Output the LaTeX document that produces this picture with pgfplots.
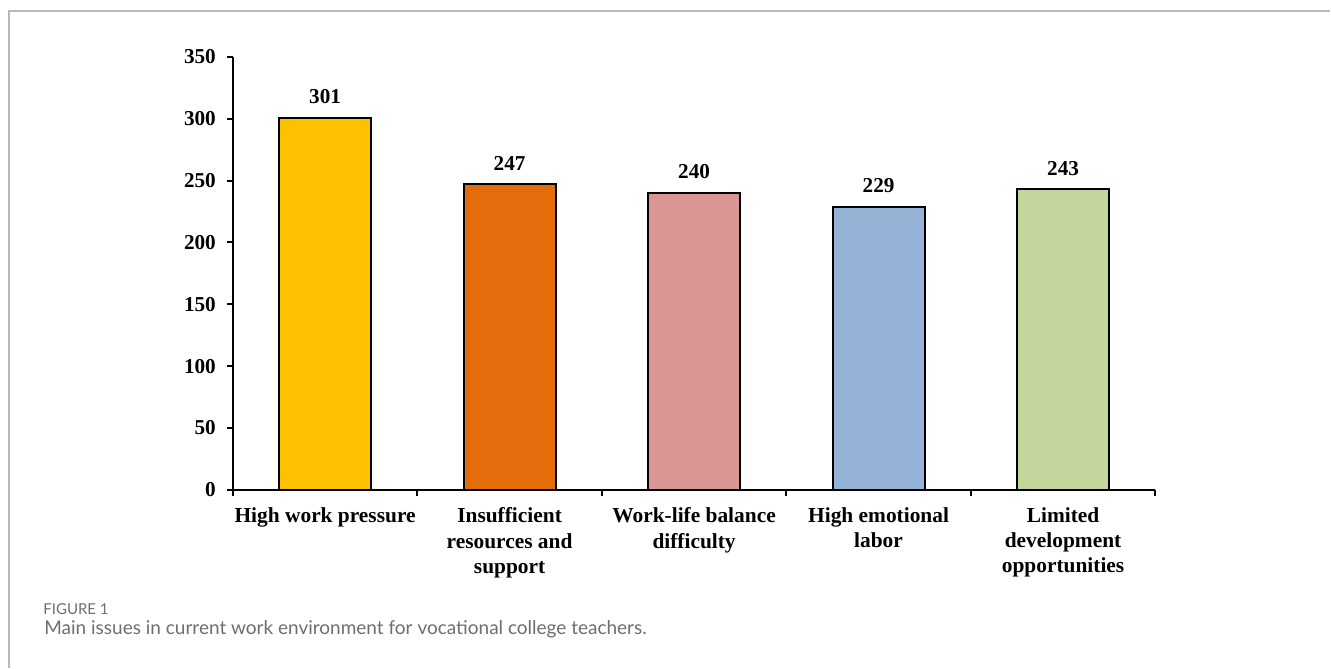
\documentclass[border=0pt]{standalone}
\usepackage{pgfplots}
\pgfplotsset{compat=1.18}
\usepackage{fontspec}
\setmainfont{Liberation Serif}
\newfontfamily\capfont{Lato}
\definecolor{c1}{HTML}{FFC000}
\definecolor{c2}{HTML}{E46C0A}
\definecolor{c3}{HTML}{D99694}
\definecolor{c4}{HTML}{95B3D7}
\definecolor{c5}{HTML}{C3D69B}
\definecolor{framegray}{HTML}{B8B8B8}
\definecolor{capgray}{HTML}{6E6E6E}
\begin{document}
\begin{tikzpicture}
\path (0pt,0pt) rectangle (665.5pt,-334pt);
\draw[framegray, line width=0.8pt] (4.5pt,-334pt) -- (4.5pt,-5.5pt) -- (665.5pt,-5.5pt);
\begin{axis}[
  at={(116.5pt,-245pt)}, anchor=south west,
  scale only axis, width=461.5pt, height=216.5pt,
  xmin=-0.5, xmax=4.5, ymin=0, ymax=350,
  axis x line=bottom, axis y line=left,
  axis line style={-, line width=1pt, black},
  ybar, bar width=46pt,
  ytick={0,50,...,350},
  xtick={0,1,2,3,4},
  xticklabels={High work pressure, Insufficient\\resources and\\support, Work-life balance\\difficulty, High emotional\\labor, Limited\\development\\opportunities},
  minor xtick={-0.5,0.5,1.5,2.5,3.5,4.5},
  tick align=outside,
  major tick length=3pt, minor tick length=3pt,
  major x tick style={draw=none},
  minor x tick style={black, line width=1pt},
  major y tick style={black, line width=1pt},
  /pgf/number format/assume math mode=true,
  yticklabel style={font=\fontsize{10.6}{12}\selectfont\bfseries, xshift=-2pt},
  xticklabel style={font=\fontsize{10.7}{12.6}\selectfont\bfseries, align=center, anchor=north, yshift=-2.5pt},
  nodes near coords,
  nodes near coords style={font=\fontsize{10.6}{12}\selectfont\bfseries, text=black, anchor=south, inner sep=0pt, yshift=6.5pt},
  clip=false,
]
\addplot[fill=c1, draw=black, line width=1pt, bar shift=0pt] coordinates {(0,301)};
\addplot[fill=c2, draw=black, line width=1pt, bar shift=0pt] coordinates {(1,247)};
\addplot[fill=c3, draw=black, line width=1pt, bar shift=0pt] coordinates {(2,240)};
\addplot[fill=c4, draw=black, line width=1pt, bar shift=0pt] coordinates {(3,229)};
\addplot[fill=c5, draw=black, line width=1pt, bar shift=0pt] coordinates {(4,243)};
\end{axis}
\node[anchor=base west, inner sep=0pt, font=\capfont\fontsize{7.5}{8}\selectfont, text=capgray] at (21.5pt,-307.5pt) {FIGURE 1};
\node[anchor=base west, inner sep=0pt, font=\capfont\fontsize{9.5}{11}\selectfont, text=capgray] at (22pt,-317.5pt) {Main issues in current work environment for vocational college teachers.};
\end{tikzpicture}
\end{document}
